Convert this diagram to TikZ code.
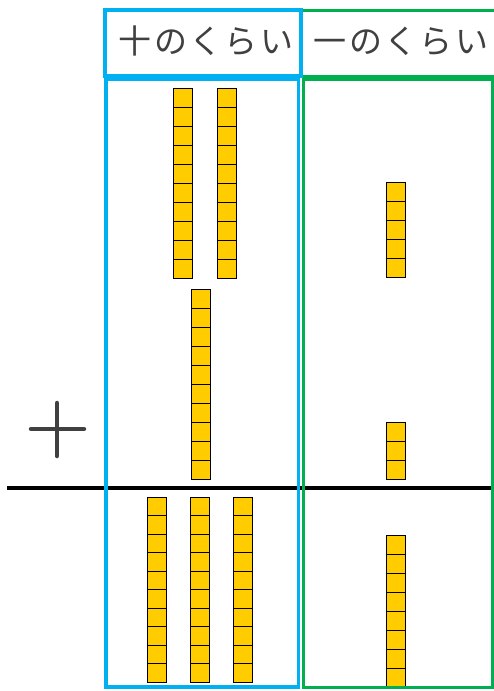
\documentclass[tikz,border=0pt]{standalone}
\usepackage{fontspec}
\newfontfamily\jpfont[LetterSpace=7]{Noto Sans CJK JP}
\usetikzlibrary{positioning}

\definecolor{placeblue}{HTML}{00B0F0}
\definecolor{placegreen}{HTML}{00B050}
\definecolor{rodyellow}{HTML}{FFCC00}
\definecolor{signgray}{HTML}{404040}

% one rod of unit cubes: left x, top y, number of cells, cell height
\newcommand{\rod}[4]{%
  \foreach \k in {1,...,#3}
    \draw[cell] (#1,{#2+(\k-1)*#4}) rectangle ++(19,#4);}

\begin{document}
\begin{tikzpicture}[
	x=1pt, y=-1pt,
	% Define Styles
	cell/.style={draw=black, fill=rodyellow, line width=0.9pt},
	header/.style={font=\jpfont\fontsize{33}{33}\selectfont, text=signgray, inner sep=0pt},
	tensbox/.style={draw=placeblue, line width=3.5pt},
	onesbox/.style={draw=placegreen, line width=3pt},
	sumline/.style={draw=black, line width=4pt},
	plussign/.style={draw=signgray, line width=4.5pt, line cap=round}
	]
	\clip (0,0) rectangle (494,691);

	% Sum line and plus sign
	\draw[sumline] (7,488) -- (492,488);
	\coordinate (plus) at (57,429);
	\draw[plussign] ([xshift=-26pt]plus) -- ([xshift=27pt]plus);
	\draw[plussign] ([yshift=26pt]plus) -- ([yshift=-27pt]plus);

	% Header cells
	\draw[onesbox] (301,10) rectangle (510,76);
	\draw[tensbox] (105,10) rectangle (301,76);
	\node[header] (tenslabel) at (206,41) {十のくらい};
	\node[header] (oneslabel) at (401,41) {一のくらい};

	% Tens column
	\rod{173}{88}{10}{19}
	\rod{217}{88}{10}{19}
	\rod{191}{289}{10}{19}
	\rod{147}{497}{10}{18.5}
	\rod{190}{497}{10}{18.5}
	\rod{233}{497}{10}{18.5}

	% Ones column
	\rod{386}{182}{5}{19}
	\rod{386}{422}{3}{19}
	\rod{386}{535}{8}{19}

	% Column frames
	\draw[tensbox] (106,79) rectangle (298.5,687);
	\draw[onesbox] (303,79) rectangle (492.5,687);
\end{tikzpicture}
\end{document}
